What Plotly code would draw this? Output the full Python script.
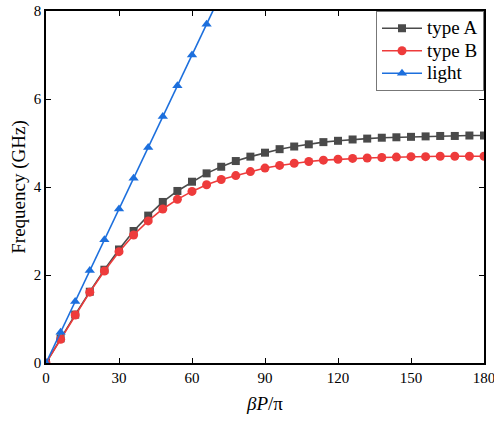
import plotly.graph_objects as go

beta_ab = [0, 6, 12, 18, 24, 30, 36, 42, 48, 54, 60, 66, 72, 78, 84, 90, 96, 102,
           108, 114, 120, 126, 132, 138, 144, 150, 156, 162, 168, 174, 180]
type_a = [0, 0.56, 1.10, 1.62, 2.12, 2.58, 3.00, 3.35, 3.66, 3.91, 4.12, 4.31, 4.46,
          4.59, 4.69, 4.78, 4.86, 4.92, 4.97, 5.02, 5.05, 5.08, 5.10, 5.12, 5.13,
          5.14, 5.15, 5.16, 5.16, 5.17, 5.17]
type_b = [0, 0.54, 1.09, 1.61, 2.09, 2.53, 2.91, 3.23, 3.50, 3.72, 3.90, 4.05, 4.17,
          4.26, 4.35, 4.43, 4.49, 4.54, 4.58, 4.61, 4.63, 4.65, 4.66, 4.67, 4.68,
          4.69, 4.69, 4.70, 4.70, 4.70, 4.70]
beta_light = [0, 6, 12, 18, 24, 30, 36, 42, 48, 54, 60, 66, 72]
light = [0, 0.70, 1.40, 2.10, 2.80, 3.50, 4.20, 4.90, 5.60, 6.30, 7.00, 7.70, 8.40]

x_ticks = [0, 30, 60, 90, 120, 150, 180]
y_ticks = [0, 2, 4, 6, 8]

FONT = "Liberation Serif, Times New Roman, serif"


def big(label):
    return '<span style="font-size:19px">' + label + '</span>'


fig = go.Figure()
fig.add_trace(go.Scatter(x=beta_ab, y=type_a, name=big("type A"), mode="lines+markers",
                         line=dict(color="#4a4a4a", width=1.6),
                         marker=dict(symbol="square", size=8, color="#4a4a4a")))
fig.add_trace(go.Scatter(x=beta_ab, y=type_b, name=big("type B"), mode="lines+markers",
                         line=dict(color="#ee3b3b", width=1.6),
                         marker=dict(symbol="circle", size=9, color="#ee3b3b")))
fig.add_trace(go.Scatter(x=beta_light, y=light, name=big("light"), mode="lines+markers",
                         line=dict(color="#1c6fdd", width=1.6),
                         marker=dict(symbol="triangle-up", size=9, color="#1c6fdd")))

axis_common = dict(showgrid=False, zeroline=False, showline=True, linecolor="black",
                   linewidth=1.5, ticks="inside", ticklen=5, tickwidth=1.2,
                   tickcolor="black", mirror="allticks", automargin=False,
                   ticklabeloverflow="allow",
                   tickfont=dict(family=FONT, size=15, color="black"))

fig.update_xaxes(range=[0, 180], tickvals=x_ticks,
                 title=dict(text="<i>βP</i>/π", font=dict(family=FONT, size=19, color="black"),
                            standoff=12),
                 **axis_common)
fig.update_yaxes(range=[0, 8], tickvals=y_ticks,
                 title=dict(text="Frequency (GHz)", font=dict(family=FONT, size=19, color="black"),
                            standoff=3),
                 **axis_common)

fig.update_layout(
    width=494, height=421,
    margin=dict(l=46, r=10, t=11, b=58),
    plot_bgcolor="white", paper_bgcolor="white",
    font=dict(family=FONT, color="black"),
    legend=dict(x=1, y=1, xanchor="right", yanchor="top",
                bgcolor="white", bordercolor="#777777", borderwidth=1,
                font=dict(family=FONT, size=15, color="black"),
                itemwidth=40, tracegroupgap=0),
)

fig.write_html("out.html")
